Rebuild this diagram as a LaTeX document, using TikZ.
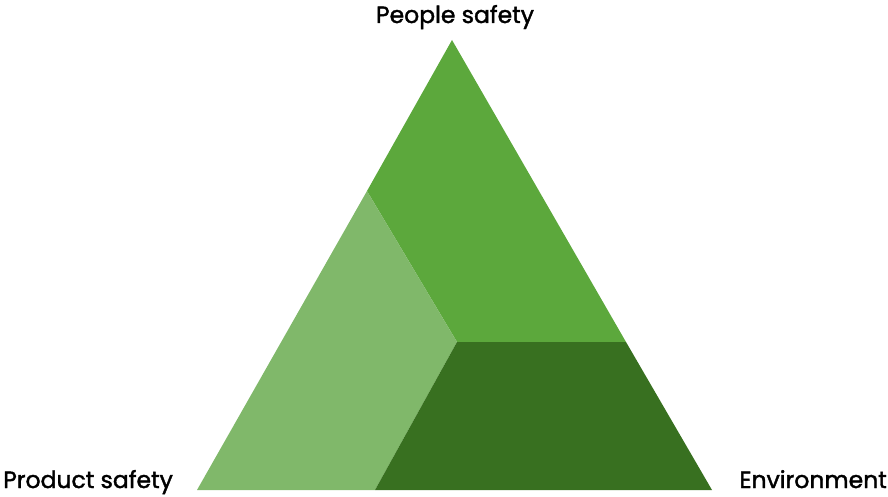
\documentclass[tikz,border=0pt]{standalone}
\usepackage{fontspec}
\setmainfont{Poppins}[FakeBold=1.6]
\usepackage{xcolor}
\definecolor{midgreen}{RGB}{92,168,60}
\definecolor{lightgreen}{RGB}{128,184,106}
\definecolor{darkgreen}{RGB}{56,112,32}
\begin{document}
\begin{tikzpicture}[x=1pt,y=-1pt,
    corner/.style={inner sep=0pt,font=\fontsize{23.5}{28}\selectfont}]
        \useasboundingbox (0,0) rectangle (888,497);
        %三角形的点
        \coordinate (apex) at (452,40);
        \coordinate (left) at (367,191);
        \coordinate (mid) at (457,342);
        \coordinate (right) at (626,342);
        \coordinate (bl) at (197,490);
        \coordinate (bm) at (375,490);
        \coordinate (br) at (712,490);
        %三块
        \fill[midgreen] (apex)--(left)--(mid)--(right)--cycle;
        \fill[lightgreen] (left)--(bl)--(bm)--(mid)--cycle;
        \fill[darkgreen] (mid)--(bm)--(br)--(right)--cycle;
        %文字
        \node[corner,anchor=base] (people) at (455,23){People safety};
        \node[corner,anchor=base west] (product) at (3,488){Product safety};
        \node[corner,anchor=base east] (environment) at (887,488){Environment};
    \end{tikzpicture}
\end{document}
